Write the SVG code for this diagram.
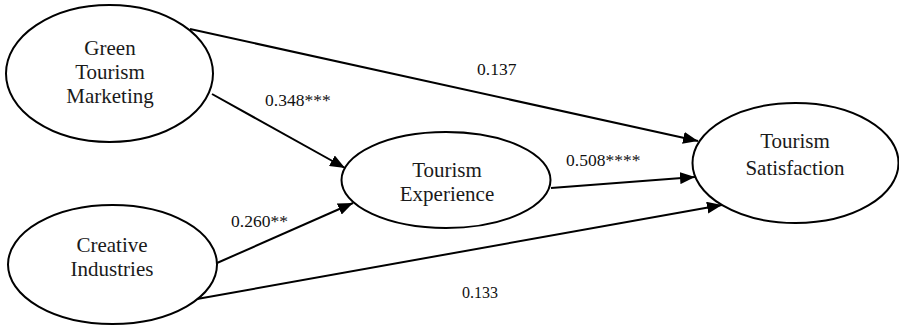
<svg xmlns="http://www.w3.org/2000/svg" width="899" height="325" viewBox="0 0 899 325">
<style>
.node ellipse{fill:#fff;stroke:#000;stroke-width:2}
.node text{font-family:"Liberation Serif","Times New Roman",serif;font-size:21px;fill:#1a1a1a;text-anchor:middle}
.edges line{stroke:#000;stroke-width:2;marker-end:url(#arr)}
.lbl{font-family:"Liberation Serif","Times New Roman",serif;font-size:17.5px;fill:#111}
</style>
<defs>
<marker id="arr" markerUnits="userSpaceOnUse" markerWidth="16" markerHeight="12" refX="15" refY="6" orient="auto">
<path d="M0,0 L15,6 L0,12 z" fill="#000"/>
</marker>
</defs>
<rect width="899" height="325" fill="#fff"/>
<g class="edges">
<line x1="190" y1="29" x2="698" y2="141"/>
<line x1="212" y1="94" x2="345" y2="168"/>
<line x1="217" y1="263" x2="353" y2="203"/>
<line x1="197" y1="299" x2="722" y2="205"/>
<line x1="551" y1="188" x2="695" y2="177"/>
</g>
<g id="n-gtm" class="node">
<ellipse cx="109.5" cy="73.5" rx="103.5" ry="68.5"/>
<text x="110" y="55">Green</text>
<text x="110" y="79">Tourism</text>
<text x="110" y="103">Marketing</text>
</g>
<g id="n-ci" class="node">
<ellipse cx="112.5" cy="264.5" rx="104.5" ry="59.5"/>
<text x="112" y="252">Creative</text>
<text x="112" y="276">Industries</text>
</g>
<g id="n-te" class="node">
<ellipse cx="446" cy="180" rx="104.5" ry="48"/>
<text x="447" y="177">Tourism</text>
<text x="447" y="201">Experience</text>
</g>
<g id="n-ts" class="node">
<ellipse cx="795.5" cy="163" rx="103" ry="60"/>
<text x="795" y="148">Tourism</text>
<text x="795" y="175">Satisfaction</text>
</g>
<g id="labels">
<text class="lbl" x="477" y="75">0.137</text>
<text class="lbl" x="265" y="106">0.348***</text>
<text class="lbl" x="566" y="166">0.508****</text>
<text class="lbl" x="231" y="227">0.260**</text>
<text class="lbl" x="462" y="298" style="font-size:16px">0.133</text>
</g>
</svg>
